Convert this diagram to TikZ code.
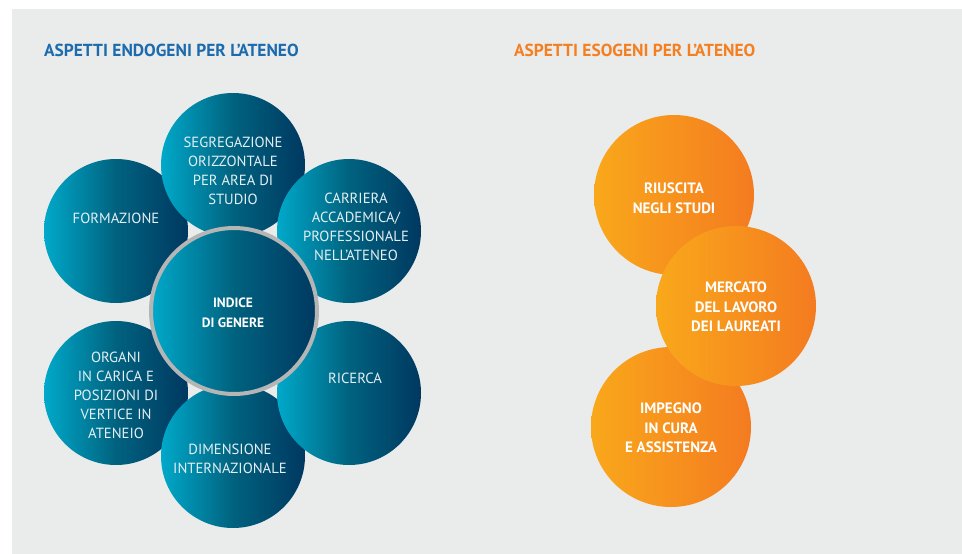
\documentclass[tikz,border=0pt]{standalone}
\usepackage{fontspec}
\setmainfont{PT Sans}
\usepackage{tikz}
\usetikzlibrary{positioning}
\definecolor{endo-light}{HTML}{00A9CA}
\definecolor{endo-mid}{HTML}{00627F}
\definecolor{endo-dark}{HTML}{003860}
\definecolor{endo-ink}{HTML}{E6EFF3}
\definecolor{endo-title}{HTML}{1B6BAE}
\definecolor{eso-light}{HTML}{F9A81B}
\definecolor{eso-dark}{HTML}{F47B20}
\definecolor{eso-title}{HTML}{F47F21}
\definecolor{panel-gray}{HTML}{EAEBEB}
\definecolor{ring-gray}{HTML}{B5B5B5}
\tikzset{
  endo-circle/.style={circle, inner sep=0pt, minimum size=144pt,
    left color=endo-light, right color=endo-dark, middle color=endo-mid},
  endo-core/.style={circle, inner sep=0pt, minimum size=166pt, draw=ring-gray, line width=4pt,
    left color=endo-light, right color=endo-dark, middle color=endo-mid},
  eso-circle/.style={circle, inner sep=0pt, minimum size=160pt,
    left color=eso-light, right color=eso-dark},
  endo-text/.style={align=center, text=endo-ink, font=\fontsize{14.7}{19}\selectfont},
  core-text/.style={align=center, text=white, font=\fontsize{13.5}{20}\selectfont\bfseries},
  eso-text/.style={align=center, text=white, font=\fontsize{15}{19.5}\selectfont\bfseries},
  panel-title/.style={anchor=west, inner sep=0pt, font=\fontsize{17.4}{19}\selectfont\bfseries}
}
\begin{document}
\begin{tikzpicture}[x=1pt, y=-1pt]
  % Panel
  \useasboundingbox (0,0) rectangle (962,554);
  \fill[panel-gray] (12,9) rectangle (962,554);

  % Titles
  \node[panel-title, text=endo-title] (endo-head) at (44,50) {ASPETTI ENDOGENI PER L’ATENEO};
  \node[panel-title, text=eso-title] (eso-head) at (514,50) {ASPETTI ESOGENI PER L’ATENEO};

  % Endogenous aspects
  \node[endo-circle] (form) at (116,231) {};
  \node[endo-circle] (organi) at (116,393) {};
  \node[endo-circle] (segr) at (233,165) {};
  \node[endo-circle] (dim) at (233,456) {};
  \node[endo-circle] (carr) at (349,231) {};
  \node[endo-circle] (ric) at (349,393) {};
  \node[endo-core] (indice) at (234,311) {};

  \node[endo-text] (form-t) at (116,218) {FORMAZIONE};
  \node[endo-text] (organi-t) at (116,395) {ORGANI\\IN CARICA E\\POSIZIONI DI\\VERTICE IN\\ATENEIO};
  \node[endo-text] (segr-t) at (233,171) {SEGREGAZIONE\\ORIZZONTALE\\PER AREA DI\\STUDIO};
  \node[endo-text] (dim-t) at (230,459) {DIMENSIONE\\INTERNAZIONALE};
  \node[endo-text] (carr-t) at (356,227) {CARRIERA\\ACCADEMICA/\\PROFESSIONALE\\NELL’ATENEO};
  \node[endo-text] (ric-t) at (355,378) {RICERCA};
  \node[core-text] (indice-t) at (233,313) {INDICE\\DI GENERE};

  % Exogenous aspects
  \node[eso-circle] (riusc) at (674,195) {};
  \node[eso-circle] (impegno) at (671,427) {};
  \node[eso-circle] (mercato) at (736,306) {};

  \node[eso-text] (riusc-t) at (674,198) {RIUSCITA\\NEGLI STUDI};
  \node[eso-text] (impegno-t) at (671,428) {IMPEGNO\\IN CURA\\E ASSISTENZA};
  \node[eso-text] (mercato-t) at (736,307) {MERCATO\\DEL LAVORO\\DEI LAUREATI};
\end{tikzpicture}
\end{document}
